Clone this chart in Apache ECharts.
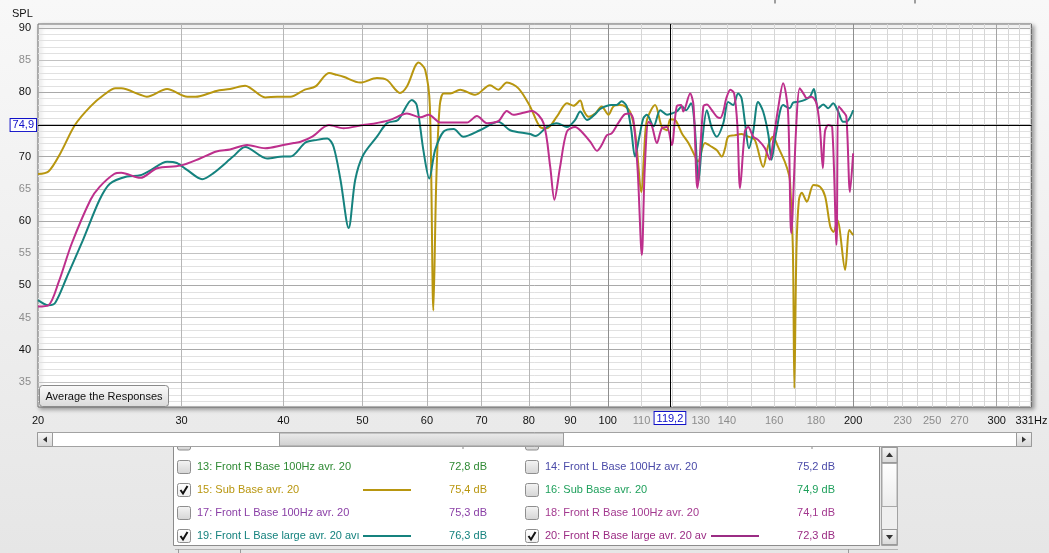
<!DOCTYPE html>
<html>
<head>
<meta charset="utf-8">
<title>SPL overlay</title>
<script src="https://cdn.jsdelivr.net/npm/echarts@6/dist/echarts.min.js"></script>
<style>
  html, body { margin: 0; padding: 0; background: #ececec; }
  #chart { width: 1049px; height: 553px; }
</style>
</head>
<body>
<div id="chart"></div>
<script>
// measured responses, [Hz, dB SPL]
const subBase = [
  [20.0, 67.3], [20.6, 67.7], [21.3, 70.5], [22.2, 74.9], [23.2, 77.8], [24.1, 79.6], [24.9, 80.6],
  [25.3, 80.6], [26.7, 79.6], [27.2, 79.3], [28.8, 80.5], [30.5, 79.3], [31.2, 79.3], [33.1, 80.2],
  [34.4, 80.5], [35.9, 81.0], [38.0, 79.2], [39.3, 79.3], [40.8, 79.3], [42.5, 80.4], [43.8, 80.9],
  [45.5, 83.0], [46.5, 82.7], [47.4, 82.4], [49.7, 81.5], [52.1, 82.2], [53.6, 81.9], [55.6, 79.9],
  [56.7, 80.9], [58.6, 84.6], [59.7, 83.5], [60.5, 77.8], [61.1, 46.1], [61.6, 66.0], [62.2, 77.8],
  [62.9, 79.8], [64.1, 79.8], [65.9, 80.4], [68.8, 79.6], [71.7, 81.1], [73.4, 80.4], [75.2, 81.5],
  [77.7, 80.6], [80.3, 77.8], [82.6, 74.6], [84.2, 74.4], [86.6, 76.2], [89.1, 78.3], [90.8, 77.9],
  [92.5, 78.7], [93.4, 77.2], [94.7, 76.2], [96.5, 76.7], [98.3, 77.8], [100.2, 76.5], [101.6, 77.8],
  [103.5, 78.0], [105.0, 77.8], [106.5, 77.0], [108.0, 73.9], [110.0, 64.5], [110.8, 70.5],
  [111.7, 75.7], [114.3, 78.0], [116.5, 74.6], [118.2, 74.1], [119.3, 75.8], [120.9, 75.7],
  [123.3, 73.6], [125.6, 72.1], [128.0, 70.0], [129.0, 69.2], [131.6, 72.1], [134.2, 71.5],
  [136.1, 71.0], [138.0, 70.0], [139.3, 71.3], [140.5, 73.1], [142.9, 73.3], [145.9, 73.5],
  [148.7, 73.1], [151.5, 72.6], [155.1, 68.4], [157.4, 71.8], [159.5, 73.1], [161.8, 71.5],
  [164.9, 69.2], [166.9, 67.1], [167.4, 65.8], [168.7, 55.5], [169.4, 34.0], [170.4, 55.5],
  [171.6, 63.3], [173.0, 64.4], [175.5, 63.0], [178.8, 65.6], [182.2, 65.3], [184.8, 63.8],
  [187.5, 59.1], [189.2, 58.3], [191.3, 60.1], [195.5, 52.4], [197.9, 58.6], [200.0, 57.8]
];

const frontLLarge = [
  [20.0, 47.7], [20.6, 46.9], [21.0, 47.3], [21.7, 51.3], [22.7, 57.0], [23.8, 63.3], [24.5, 65.8],
  [25.7, 66.9], [26.7, 67.1], [27.5, 67.9], [28.8, 69.2], [29.6, 69.0], [30.5, 67.9], [31.8, 66.5],
  [32.8, 67.4], [34.7, 70.0], [35.9, 71.5], [38.2, 69.7], [40.0, 70.0], [40.8, 70.0], [42.6, 72.2],
  [44.0, 72.6], [45.3, 72.8], [46.1, 71.5], [47.0, 66.4], [48.1, 58.9], [49.0, 66.4], [50.1, 70.2],
  [52.1, 73.1], [53.6, 75.2], [55.3, 75.7], [57.5, 78.8], [58.3, 78.0], [59.4, 71.0], [60.4, 66.6],
  [61.4, 71.0], [62.9, 73.9], [64.7, 74.3], [66.5, 73.1], [69.7, 74.1], [73.4, 75.4], [75.9, 74.1],
  [80.3, 73.5], [81.5, 73.2], [84.2, 74.6], [86.6, 75.2], [89.1, 74.6], [91.2, 75.7], [92.5, 77.0],
  [94.3, 75.7], [96.5, 76.6], [97.9, 77.4], [101.0, 78.0], [102.5, 78.0], [104.0, 78.6], [105.5, 77.8],
  [106.8, 74.4], [108.0, 70.0], [109.3, 73.0], [110.6, 76.0], [111.7, 76.5], [113.8, 74.7],
  [116.0, 77.2], [118.2, 76.5], [119.8, 76.7], [121.5, 77.0], [123.3, 77.8], [124.8, 77.2],
  [126.5, 78.3], [127.8, 75.0], [129.2, 66.1], [130.5, 72.0], [132.3, 77.2], [134.2, 74.4],
  [136.1, 73.1], [138.6, 75.2], [140.5, 78.5], [142.5, 78.0], [144.5, 79.8], [145.9, 79.1],
  [147.3, 75.4], [149.0, 71.3], [150.8, 73.9], [152.9, 78.5], [155.1, 77.0], [157.4, 73.4],
  [158.8, 69.5], [161.0, 73.9], [164.1, 78.0], [167.2, 77.5], [168.8, 78.4], [171.2, 78.5],
  [174.5, 78.8], [177.0, 79.3], [179.0, 80.5], [181.2, 77.5], [183.8, 78.1], [186.4, 77.5],
  [189.0, 78.3], [191.7, 77.0], [194.4, 75.4], [196.2, 75.4], [198.1, 76.0], [200.0, 77.2]
];

const frontRLarge = [
  [20.0, 46.7], [20.6, 46.9], [21.2, 50.5], [22.0, 56.5], [23.2, 63.3], [23.8, 65.3], [24.8, 67.3],
  [25.3, 67.5], [26.7, 66.7], [28.0, 68.2], [29.9, 68.6], [31.6, 69.7], [33.1, 70.8], [34.4, 71.1],
  [36.1, 71.8], [38.0, 71.3], [40.0, 71.8], [41.2, 72.1], [42.0, 72.3], [43.4, 73.1], [45.5, 74.9],
  [47.4, 74.4], [50.1, 74.9], [51.6, 75.1], [54.1, 75.7], [56.7, 76.7], [58.9, 76.1], [60.3, 76.5],
  [62.3, 75.3], [64.7, 75.3], [67.2, 75.3], [69.1, 76.3], [71.1, 75.2], [73.4, 75.5], [75.2, 77.1],
  [76.6, 76.5], [78.8, 76.8], [80.7, 77.1], [83.4, 75.2], [85.0, 68.4], [86.0, 63.3], [87.4, 68.4],
  [89.1, 73.9], [91.2, 74.6], [92.5, 74.1], [95.2, 72.3], [97.0, 70.9], [98.3, 71.8], [99.7, 73.3],
  [101.1, 73.6], [103.0, 75.2], [105.0, 76.6], [106.5, 76.7], [107.5, 75.7], [108.8, 68.0],
  [110.1, 54.7], [111.0, 68.0], [112.2, 75.4], [113.2, 74.9], [114.9, 72.1], [116.5, 74.4],
  [118.2, 74.6], [119.8, 71.8], [121.5, 77.8], [123.0, 78.0], [123.8, 77.0], [126.2, 79.8],
  [127.4, 78.0], [128.8, 65.1], [131.0, 77.8], [132.3, 78.1], [134.2, 77.2], [136.1, 76.2],
  [137.4, 76.0], [138.6, 77.0], [139.8, 79.1], [141.4, 80.4], [142.9, 79.8], [144.2, 74.9],
  [145.3, 65.1], [147.3, 73.9], [148.7, 74.6], [150.8, 73.1], [152.9, 72.6], [155.9, 71.3],
  [158.1, 69.5], [159.5, 72.3], [161.8, 77.5], [164.1, 81.4], [166.4, 77.0], [167.9, 58.1],
  [170.4, 75.4], [172.0, 80.6], [174.2, 79.6], [175.3, 79.1], [177.8, 79.3], [180.3, 78.3],
  [182.1, 74.4], [183.6, 68.2], [184.7, 73.9], [186.4, 74.9], [188.5, 74.6], [190.8, 56.3],
  [192.0, 77.8], [194.4, 77.0], [196.2, 76.2], [198.2, 64.5], [200.0, 70.5]
];

// axis ticks
const xGridHz = [30, 40, 50, 60, 70, 80, 90, 100, 110, 120, 130, 140, 150, 160, 170, 180, 190, 200,
  210, 220, 230, 240, 250, 260, 270, 280, 290, 300, 310, 320, 330];
const xLabelsDark = [20, 30, 40, 50, 60, 70, 80, 90, 100, 200, 300];
const xLabelsLight = [110, 130, 140, 160, 180, 230, 250, 270];
const yLabelsDark = [40, 50, 60, 70, 80, 90];
const yLabelsLight = [35, 45, 55, 65, 85];
const cursorHz = 119.2;
const cursorDb = 74.9;

// legend panel rows
const legendNames = [
  '13: Front R Base 100Hz avr. 20', '15: Sub Base avr. 20', '17: Front L Base 100Hz avr. 20',
  '19: Front L Base large avr. 20 avı', '14: Front L Base 100Hz avr. 20', '16: Sub Base avr. 20',
  '18: Front R Base 100Hz avr. 20', '20: Front R Base large avr. 20 av'
];
const legendLevels = ['72,8 dB', '75,4 dB', '75,3 dB', '76,3 dB', '75,2 dB', '74,9 dB', '74,1 dB', '72,3 dB'];
const legendColors = ['#2f8a34', '#b8960f', '#8a3fa6', '#15827e', '#4a4aa8', '#1fa05c', '#a3398f', '#9b2c84'];
const legendChecked = [false, true, false, true, false, false, false, true];

const GOLD = '#b8960f', TEAL = '#15827e', MAGENTA = '#bd2f8c';
const FONT = '"Liberation Sans", Arial, sans-serif';

const chart = echarts.init(document.getElementById('chart'));

// grid lines drawn as mark lines so they follow the log scale
const gridMarks = [];
for (let db = 32; db <= 90; db++) {
  const color = db % 10 === 0 ? '#a9a9a9' : db % 5 === 0 ? '#c2c2c2' : '#e1e1e1';
  const dark = yLabelsDark.includes(db), light = yLabelsLight.includes(db);
  gridMarks.push({
    yAxis: db,
    lineStyle: { color },
    label: (dark || light)
      ? { show: true, formatter: String(db), color: dark ? '#111' : '#8c8c8c', distance: 7 }
      : { show: false }
  });
}
const xMarkItem = (hz, color, text) => {
  const dark = xLabelsDark.includes(hz), light = xLabelsLight.includes(hz);
  return {
    xAxis: hz,
    lineStyle: { color: color || 'rgba(0,0,0,0)' },
    label: (text || dark || light)
      ? { show: true, formatter: text || String(hz), color: (dark || text) ? '#111' : '#8c8c8c', distance: 8 }
      : { show: false }
  };
};
gridMarks.push(xMarkItem(20, null));
xGridHz.forEach((hz) => {
  let color = '#d6d6d6';
  if (hz <= 90) color = '#b6b6b6';
  if (hz === 100 || hz === 200) color = '#8e8e8e';
  if (hz === 300) color = '#a4a4a4';
  gridMarks.push(xMarkItem(hz, color));
});
gridMarks.push(xMarkItem(331, null, '331Hz'));

const grad = (a, b) => new echarts.graphic.LinearGradient(0, 0, 0, 1, [
  { offset: 0, color: a }, { offset: 1, color: b }
]);

const graphics = [];
// button inside the plot
graphics.push({
  type: 'rect', shape: { x: 39.5, y: 385.5, width: 129, height: 21, r: 3 },
  style: { fill: grad('#fbfbfb', '#d9d9d9'), stroke: '#8a8a8a', lineWidth: 1 }, z: 50
});
graphics.push({
  type: 'text', z: 51,
  style: { text: 'Average the Responses', x: 104, y: 396.5, align: 'center', verticalAlign: 'middle',
    font: '11px ' + FONT, fill: '#111' }
});
// legend panel, with the row above cut off by the scroll bar
graphics.push({ type: 'rect', shape: { x: 173.5, y: 446.5, width: 706, height: 99 },
  style: { fill: '#fff', stroke: '#8c8c8c' } });
[177.5, 525.5].forEach((x) => graphics.push({ type: 'rect',
  shape: { x, y: 437, width: 13, height: 13, r: 2 }, style: { fill: grad('#f5f5f5', '#d4d4d4'), stroke: '#8e8e8e' } }));
[463, 812].forEach((x) => graphics.push({ type: 'line', shape: { x1: x, y1: 447, x2: x, y2: 449 },
  style: { stroke: '#888' } }));
graphics.push({ type: 'line', shape: { x1: 175, y1: 549.5, x2: 898, y2: 549.5 },
  style: { stroke: '#b4b4b4' } });
[178.5, 240.5, 848.5].forEach((x) => graphics.push({ type: 'line',
  shape: { x1: x, y1: 549, x2: x, y2: 553 }, style: { stroke: '#9a9a9a' } }));
// horizontal scroll bar
graphics.push({ type: 'rect', shape: { x: 37.5, y: 432.5, width: 994, height: 14 },
  style: { fill: '#fff', stroke: '#a2a2a2' } });
graphics.push({ type: 'rect', shape: { x: 37.5, y: 432.5, width: 15, height: 14 },
  style: { fill: grad('#f7f7f7', '#d6d6d6'), stroke: '#9a9a9a' } });
graphics.push({ type: 'polygon', shape: { points: [[43, 439.5], [47, 436.5], [47, 442.5]] },
  style: { fill: '#333' } });
graphics.push({ type: 'rect', shape: { x: 1016.5, y: 432.5, width: 15, height: 14 },
  style: { fill: grad('#f7f7f7', '#d6d6d6'), stroke: '#9a9a9a' } });
graphics.push({ type: 'polygon', shape: { points: [[1026, 439.5], [1022, 436.5], [1022, 442.5]] },
  style: { fill: '#333' } });
graphics.push({ type: 'rect', shape: { x: 279.5, y: 433, width: 284, height: 13 },
  style: { fill: grad('#ececec', '#cfcfcf'), stroke: '#9c9c9c' } });
// vertical scroll bar of the panel
graphics.push({ type: 'rect', shape: { x: 881.5, y: 446.5, width: 16, height: 99 },
  style: { fill: '#efefef', stroke: '#a2a2a2' } });
graphics.push({ type: 'rect', shape: { x: 882, y: 463.5, width: 15, height: 43 },
  style: { fill: grad('#ffffff', '#ececec'), stroke: '#a8a8a8' } });
graphics.push({ type: 'rect', shape: { x: 882, y: 447.5, width: 15, height: 15 },
  style: { fill: grad('#f7f7f7', '#d8d8d8'), stroke: '#9a9a9a' } });
graphics.push({ type: 'polygon', shape: { points: [[889.5, 452.5], [886, 457], [893, 457]] },
  style: { fill: '#333' } });
graphics.push({ type: 'rect', shape: { x: 882, y: 529.5, width: 15, height: 15 },
  style: { fill: grad('#f7f7f7', '#d8d8d8'), stroke: '#9a9a9a' } });
graphics.push({ type: 'polygon', shape: { points: [[889.5, 539.5], [886, 535], [893, 535]] },
  style: { fill: '#333' } });

const checkbox = (x, y, checked) => {
  graphics.push({ type: 'rect', shape: { x: x + 0.5, y: y + 0.5, width: 13, height: 13, r: 2 },
    style: { fill: checked ? grad('#ffffff', '#eeeeee') : grad('#f5f5f5', '#d4d4d4'), stroke: '#8e8e8e' } });
  if (checked) {
    graphics.push({ type: 'polyline',
      shape: { points: [[x + 3.5, y + 7], [x + 6, y + 10.5], [x + 10.5, y + 3]] },
      style: { stroke: '#111', lineWidth: 2, fill: null } });
  }
};
const rowY = [467, 490, 513, 536];
legendNames.forEach((name, i) => {
  const col = i < 4 ? 0 : 1;
  const y = rowY[i % 4];
  const boxX = col ? 525 : 177;
  const textX = col ? 545 : 197;
  const valueX = col ? 835 : 487;
  const lineX = col ? 711 : 363;
  checkbox(boxX, y - 7, legendChecked[i]);
  graphics.push({ type: 'text', style: { text: name, x: textX, y, verticalAlign: 'middle',
    font: '11px ' + FONT, fill: legendColors[i] } });
  graphics.push({ type: 'text', style: { text: legendLevels[i], x: valueX, y, align: 'right',
    verticalAlign: 'middle', font: '11px ' + FONT, fill: legendColors[i] } });
  if (legendChecked[i]) {
    graphics.push({ type: 'line', shape: { x1: lineX, y1: y, x2: lineX + 48, y2: y },
      style: { stroke: legendColors[i], lineWidth: 2 } });
  }
});
// clipped text at the very top
[775, 915].forEach((x) => graphics.push({ type: 'line', shape: { x1: x, y1: 0, x2: x, y2: 3.5 },
  style: { stroke: '#444', lineWidth: 1 } }));
graphics.push({ type: 'text', style: { text: 'SPL', x: 12, y: 14, verticalAlign: 'middle',
  font: '11px ' + FONT, fill: '#111' } });

const curve = (name, data, color) => ({
  name, type: 'line', data, smooth: 0.3, showSymbol: false, z: 3,
  lineStyle: { color, width: 2 }, itemStyle: { color }, silent: true, animation: false
});

const option = {
  animation: false,
  backgroundColor: new echarts.graphic.LinearGradient(0, 0, 0, 1, [
    { offset: 0, color: '#f8f8f8' }, { offset: 1, color: '#e6e6e6' }
  ]),
  grid: {
    left: 38, top: 24, width: 993.5, height: 383, show: true, backgroundColor: '#fff',
    borderColor: '#6e6e6e', borderWidth: 1,
    shadowColor: 'rgba(0,0,0,0.35)', shadowBlur: 4, shadowOffsetX: 2, shadowOffsetY: 2
  },
  xAxis: {
    type: 'log', logBase: 10, min: 20, max: 331,
    axisLine: { show: false }, axisTick: { show: false }, axisLabel: { show: false },
    splitLine: { show: false }, minorSplitLine: { show: false }
  },
  yAxis: {
    type: 'value', min: 31.1, max: 90.6,
    axisLine: { show: false }, axisTick: { show: false }, axisLabel: { show: false },
    splitLine: { show: false }
  },
  series: [
    {
      name: 'grid', type: 'line', data: [], silent: true,
      markLine: {
        silent: true, symbol: ['none', 'none'], animation: false, z: 1,
        lineStyle: { type: 'solid', width: 1 },
        label: { position: 'start', fontSize: 11, fontFamily: FONT },
        emphasis: { disabled: true },
        data: gridMarks
      }
    },
    curve('15: Sub Base avr. 20', subBase, GOLD),
    curve('19: Front L Base large avr. 20', frontLLarge, TEAL),
    curve('20: Front R Base large avr. 20', frontRLarge, MAGENTA),
    {
      name: 'cursor', type: 'line', data: [], silent: true,
      markLine: {
        silent: true, symbol: ['none', 'none'], animation: false, z: 6,
        lineStyle: { type: 'solid', width: 1, color: '#000' },
        label: {
          position: 'start', fontSize: 11, fontFamily: FONT, color: '#1010c8',
          backgroundColor: '#fff', borderColor: '#1010c8', borderWidth: 1, padding: [1, 2, 0, 2]
        },
        emphasis: { disabled: true },
        data: [
          { xAxis: cursorHz, label: { formatter: String(cursorHz).replace('.', ','), distance: 5 } },
          { yAxis: cursorDb, label: { formatter: String(cursorDb).replace('.', ','), distance: 2 } }
        ]
      }
    }
  ],
  graphic: graphics
};

chart.setOption(option);
</script>
</body>
</html>
